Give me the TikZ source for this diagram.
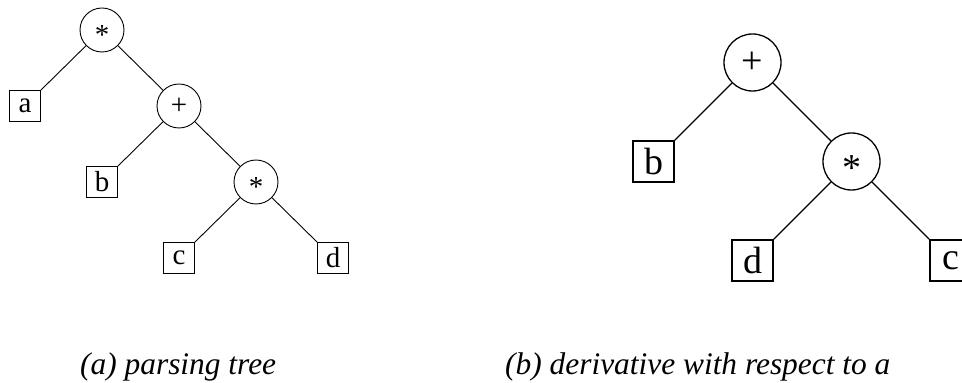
\documentclass[tikz,border=0pt]{standalone}
\usepackage{fontspec}
\setmainfont{Liberation Serif}
\usetikzlibrary{positioning}

% asterisk set on the node centre
\newcommand{\astsym}{\smash{\raisebox{-0.5em}{*}}}

\begin{document}
\begin{tikzpicture}[
    x=1pt, y=1pt,
    op/.style={circle, draw, inner sep=0pt, minimum size=44pt, line width=0.9pt, font=\fontsize{29}{32}\selectfont},
    leaf/.style={rectangle, draw, inner sep=0pt, minimum size=31pt, line width=0.9pt, font=\fontsize{29}{32}\selectfont},
    bigop/.style={op, minimum size=57pt, line width=1.3pt, font=\fontsize{38}{42}\selectfont},
    bigleaf/.style={leaf, minimum size=41pt, line width=1.6pt, font=\fontsize{38}{42}\selectfont},
    edge/.style={line width=0.9pt},
    bigedge/.style={line width=1.3pt},
    caption/.style={anchor=base west, inner sep=0pt, font=\fontsize{31.4}{36}\selectfont\itshape},
]
\clip (0,0) rectangle (962,383);

% (a) parsing tree
\begin{scope}[node distance=76pt and 77pt, on grid]
    \node[op] (times1) at (102,353) {\astsym};
    \node[leaf, below left=of times1] (a1) {a};
    \node[op, below right=of times1] (plus1) {+};
    \node[leaf, below left=of plus1] (b1) {b};
    \node[op, below right=of plus1] (times2) {\astsym};
    \node[leaf, below left=of times2] (c1) {c};
    \node[leaf, below right=of times2] (d1) {d};

    \draw[edge] (times1) -- (a1.north east);
    \draw[edge] (times1) -- (plus1);
    \draw[edge] (plus1) -- (b1.north east);
    \draw[edge] (plus1) -- (times2);
    \draw[edge] (times2) -- (c1.north east);
    \draw[edge] (times2) -- (d1.north west);
\end{scope}

% (b) derivative tree
\begin{scope}[node distance=99pt and 99pt, on grid]
    \node[bigop] (plus2) at (752.5,320.5) {+};
    \node[bigleaf, below left=of plus2] (b2) {b};
    \node[bigop, below right=of plus2] (times3) {\astsym};
    \node[bigleaf, below left=of times3] (d2) {d};
    \node[bigleaf, below right=of times3] (c2) {c};

    \draw[bigedge] (plus2) -- (b2.north east);
    \draw[bigedge] (plus2) -- (times3);
    \draw[bigedge] (times3) -- (d2.north east);
    \draw[bigedge] (times3) -- (c2.north west);
\end{scope}

% Captions
\node[caption] (capa) at (80,8) {(a) parsing tree};
\node[caption] (capb) at (505,8) {(b) derivative with respect to a};

\end{tikzpicture}
\end{document}
